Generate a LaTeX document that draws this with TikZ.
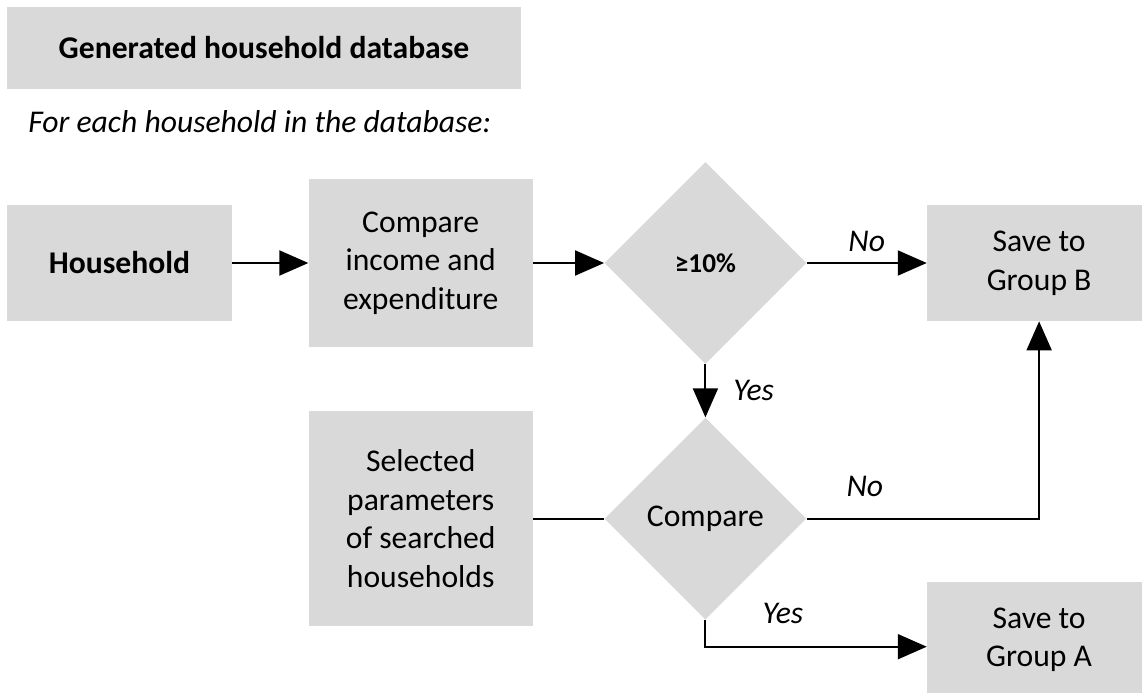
\documentclass[tikz,border=0pt]{standalone}
\usepackage{fontspec}
\setmainfont{Carlito}
\usetikzlibrary{positioning, shapes.geometric, arrows.meta, calc}
\definecolor{boxgray}{HTML}{D9D9D9}

\begin{document}
\begin{tikzpicture}[
        node distance=1.5cm,
        box/.style={fill=boxgray, align=center, inner sep=0pt, minimum width=4.48cm, minimum height=2.32cm, font=\fontsize{18}{22}\selectfont},
        decision/.style={diamond, aspect=1, fill=boxgray, align=center, inner sep=0pt, minimum width=4.04cm, minimum height=4.04cm, font=\fontsize{18}{22}\selectfont},
        lbl/.style={font=\fontsize{18}{22}\selectfont\itshape, inner sep=0pt},
        arrow/.style={-{Triangle[length=0.58cm, width=0.5cm]}, line width=1.1pt}
      ]
    \useasboundingbox (0,0) rectangle (22.84,-13.86);

    \node[box, minimum width=10.28cm, minimum height=1.64cm, font=\fontsize{18}{22}\selectfont\bfseries] (database) at (5.28,-0.96) {Generated household database};
    \node[lbl, anchor=west] (foreach) at (0.56,-2.44) {For each household in the database:};

    \node[box, minimum width=4.5cm, font=\fontsize{18}{22}\selectfont\bfseries] (household) at (2.39,-5.26) {Household};
    \node[box, minimum height=3.36cm] (compare) [right=1.52cm of household] {Compare\\income and\\expenditure};
    \node[decision, font=\fontsize{15.5}{18}\selectfont\bfseries] (threshold) [right=1.42cm of compare] {≥10\%};
    \node[box] (groupB) [right=2.4cm of threshold] {Save to\\Group B};
    \node[decision] (match) [below=1.06cm of threshold] {Compare};
    \node[box, minimum height=4.3cm] (params) [left=1.42cm of match] {Selected\\parameters\\of searched\\households};
    \node[box] (groupA) [below=5.2cm of groupB] {Save to\\Group A};

    \draw[arrow] (household) -- (compare);
    \draw[arrow] (compare) -- (threshold);
    \draw[arrow] (threshold) -- node[lbl, above=0.2cm] {No} (groupB);
    \draw[arrow] (threshold) -- node[lbl, right=0.54cm] {Yes} (match);
    \draw[line width=1.1pt] (params) -- (match);
    \draw[arrow] (match.east) -| node[lbl, pos=0.125, above=0.42cm] {No} (groupB.south);
    \draw[arrow] (match.south) |- node[lbl, pos=0.675, above=0.44cm] {Yes} ([yshift=-0.14cm]groupA.west);

\end{tikzpicture}
\end{document}
